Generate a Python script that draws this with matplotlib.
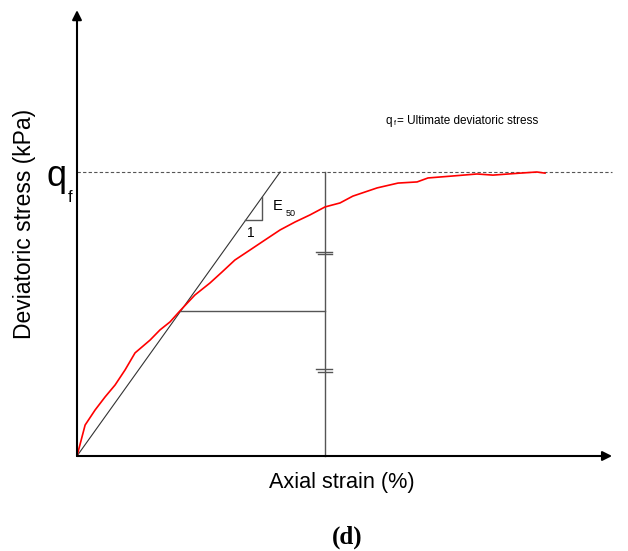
import matplotlib
matplotlib.use("Agg")
import matplotlib.pyplot as plt

# Stress-strain curve (axial strain %, deviatoric stress as % of q_f)
strain = [0, 0.26, 0.58, 0.90, 1.22, 1.54, 1.86, 2.34, 2.66, 2.98, 3.30, 3.78,
          4.26, 4.65, 5.06, 5.54, 6.03, 6.51, 6.99, 7.47, 7.95, 8.43, 8.84,
          9.62, 10.29, 10.90, 11.25, 12.05, 12.82, 13.33, 14.20, 14.74, 15.0]
stress = [0, 10.9, 16.2, 20.8, 25.0, 30.3, 36.3, 40.8, 44.4, 47.2, 51.1, 56.7,
          60.9, 64.8, 69.0, 72.5, 76.1, 79.6, 82.4, 84.9, 87.7, 89.1, 91.5,
          94.4, 96.1, 96.5, 97.9, 98.6, 99.3, 98.9, 99.6, 100.0, 99.6]

q_f = 100.0
half_qf = 51.0
strain_half = 3.30          # strain at 50 % of q_f
strain_at_qf_line = 7.95    # vertical reference line
tangent_end = 6.51          # secant line reaches q_f here
hatch_levels = [71.5, 30.0]

fig = plt.figure(figsize=(6.28, 5.51), dpi=100)
ax = fig.add_axes([0, 0, 1, 1])
ax.set_xlim(-2.468, 17.66)
ax.set_ylim(-33.45, 160.56)
ax.axis("off")

gray = "#555555"
x_end = 17.15
y_end = 157.0

# q_f dashed level
ax.plot([0, x_end], [q_f, q_f], ls=(0, (3, 2)), color=gray, lw=0.8)

# secant modulus line
ax.plot([0, tangent_end], [0, q_f], color="#333333", lw=0.8)

# half-stress horizontal and vertical reference lines
ax.plot([strain_half, strain_at_qf_line], [half_qf, half_qf], color=gray, lw=1.0)
ax.plot([strain_at_qf_line, strain_at_qf_line], [0, q_f], color=gray, lw=1.0)

# equal-length hatch marks
for yh in hatch_levels:
    ax.plot([strain_at_qf_line - 0.3, strain_at_qf_line + 0.22], [yh + 0.5, yh + 0.5], color=gray, lw=1.0)
    ax.plot([strain_at_qf_line - 0.22, strain_at_qf_line + 0.22], [yh - 0.5, yh - 0.5], color=gray, lw=1.0)

# slope triangle
slope = q_f / tangent_end
tx0, tx1 = 5.40, 5.93
ty = tx0 * slope
ax.plot([tx0, tx1, tx1], [ty, ty, tx1 * slope], color=gray, lw=1.0)
ax.text(6.28, 88.0, "E", fontsize=10.5, family="Liberation Sans", va="center")
ax.text(6.68, 85.4, "50", fontsize=6.5, family="Liberation Sans", va="center")
ax.text(5.45, 78.5, "1", fontsize=10, family="Liberation Sans", va="center")

# stress-strain curve
ax.plot(strain, stress, color="red", lw=1.2)

# axes with arrows
ax.annotate("", xy=(x_end, 0), xytext=(0, 0),
            arrowprops=dict(arrowstyle="-|>", color="black", lw=1.5,
                            mutation_scale=14, shrinkA=0, shrinkB=0))
ax.annotate("", xy=(0, y_end), xytext=(0, 0),
            arrowprops=dict(arrowstyle="-|>", color="black", lw=1.5,
                            mutation_scale=14, shrinkA=0, shrinkB=0))

# labels
ax.text(8.49, -9.2, "Axial strain (%)", fontsize=15.6, family="Liberation Sans",
        ha="center", va="center")
ax.text(-1.67, 81.7, "Deviatoric stress (kPa)", fontsize=16.5, family="Liberation Sans",
        rotation=90, ha="center", va="center")
ax.text(-0.98, 95.0, "q", fontsize=26, family="Liberation Sans", ha="left", va="baseline")
ax.text(-0.30, 89.5, "f", fontsize=12, family="Liberation Sans", ha="left", va="baseline")

ax.text(9.9, 118.0, "q", fontsize=8.5, family="Liberation Sans", va="center")
ax.text(10.16, 117.0, "f", fontsize=5.2, family="Liberation Sans", va="center")
ax.text(10.27, 118.0, "= Ultimate deviatoric stress", fontsize=8.5,
        family="Liberation Sans", va="center")

ax.text(8.65, -28.5, "(d)", fontsize=18, family="Liberation Serif", weight="bold",
        ha="center", va="center")

fig.savefig("out.png", dpi=100)
